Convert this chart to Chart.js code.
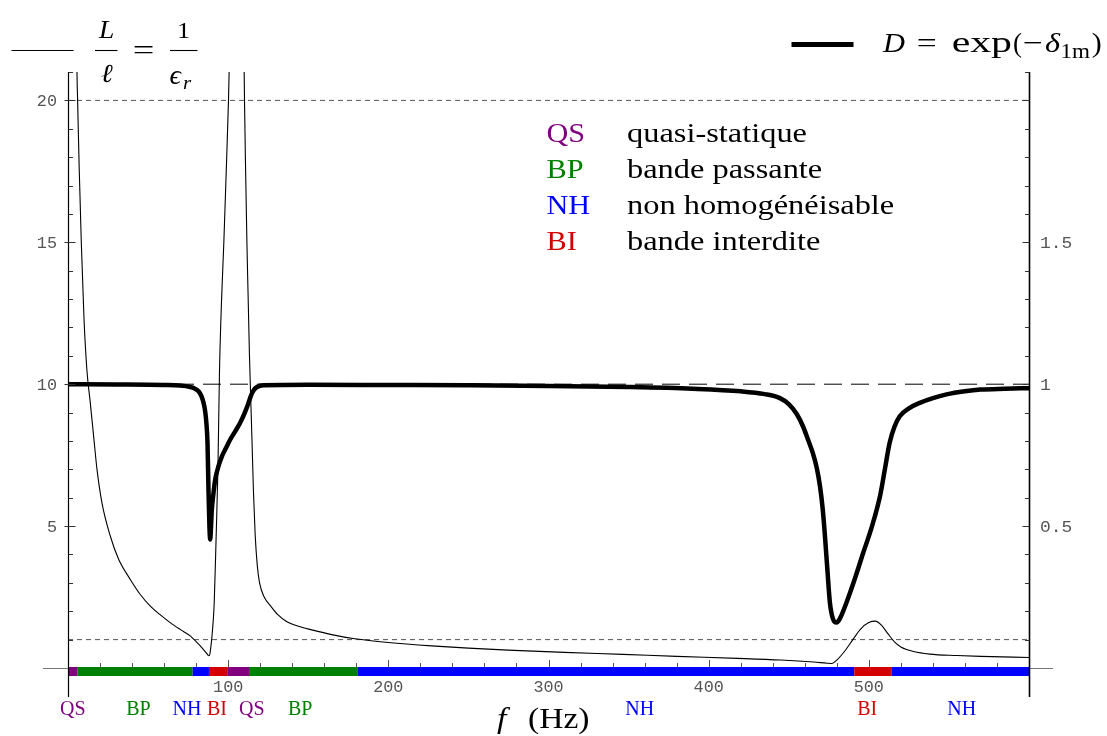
<!DOCTYPE html>
<html><head><meta charset="utf-8">
<script src="https://cdn.jsdelivr.net/npm/chart.js@4/dist/chart.umd.min.js"></script>
<style>html,body{margin:0;padding:0;background:#fff}#wrap{width:1107px;height:736px}</style>
</head><body><div id="wrap"><canvas id="c" width="1107" height="736"></canvas></div>
<script>
// ---- data ----
const thinFreq  = [5.0,5.6,6.0,7.0,8.3,10.0,11.8,13.9,16.0,18.1,21.2,26.4,31.6,38.9,45.0,51.4,57.5,63.8,70.0,76.3,80.0,82.6,85.0,86.8,87.9,88.6,89.3,89.9,91.3,92.5,93.6,94.6,95.9,97.3,98.8,100.2,100.6,101.2,105,109.6,110.0,110.2,110.9,111.7,112.5,113.3,114.8,115.8,116.9,118.2,119.6,122.5,126.6,131,136.2,145,155.3,167,179.2,200,227,250,274.7,310,346.3,380,418,445,465.7,474,477,480,485,490,495,500,504,508,512,516,520,528,538,555,570,600];
const thinRatio = [24,21,20,17.6,15,12.3,10.5,9.35,8.17,7.0,5.82,4.65,3.83,3.12,2.6,2.18,1.88,1.6,1.36,1.13,0.93,0.78,0.62,0.5,0.43,0.5,0.8,1.13,2.3,4.65,7.0,10.5,13,15,17.5,20,21,23,null,23,21,20,17.5,15,13,11.0,8.17,6.2,4.65,3.6,3.0,2.5,2.18,1.88,1.65,1.45,1.30,1.15,1.03,0.9,0.78,0.7,0.63,0.55,0.48,0.41,0.34,0.28,0.21,0.17,0.16,0.28,0.6,1.0,1.38,1.6,1.65,1.5,1.2,0.92,0.74,0.58,0.49,0.44,0.41,0.37];
const thickFreq = [0,30,60,70,76.3,79,81.5,83.3,84.6,85.5,86.3,87.1,87.7,88.3,88.8,89.3,89.8,90.8,91.9,94,96.1,98.7,101.3,104.4,107.5,110.2,112.7,114.4,115.8,118,122,150,200,250,300,350,390,420,435,444.5,450,455,459,462,465,467.5,469.5,471.2,472.6,474.2,475.7,477.5,479.9,482,486,491,496.5,502,507,510,513,516,519.3,525,531.8,540,548.5,560,569.7,585,600];
const thickD    = [1.0,0.999,0.997,0.995,0.99,0.985,0.975,0.958,0.935,0.91,0.87,0.793,0.63,0.5,0.453,0.5,0.559,0.615,0.664,0.712,0.746,0.776,0.805,0.834,0.864,0.897,0.934,0.962,0.978,0.99,0.996,0.998,0.997,0.996,0.994,0.99,0.984,0.975,0.965,0.951,0.93,0.895,0.85,0.805,0.758,0.705,0.641,0.56,0.465,0.34,0.23,0.175,0.16,0.175,0.23,0.31,0.406,0.5,0.606,0.7,0.794,0.85,0.887,0.915,0.934,0.951,0.964,0.975,0.981,0.984,0.986];

const xTickLabels     = [100,200,300,400,500];
const leftTickLabels  = [5,10,15,20];
const rightTickLabels = [0.5,1,1.5];
const dottedLevels    = [20,1];   // left-axis units
const dashedLevel     = 10;

const bandStart = [0,6,77.8,88,99.4,113,181,490.9,514.2];
const bandEnd   = [6,77.8,88,99.4,113,181,490.9,514.2,600];
const bandType  = ['QS','BP','NH','BI','QS','BP','NH','BI','NH'];
const bandLabelFreq = [3,44,74.3,93,114.8,145,357,499,558];
const bandLabelType = ['QS','BP','NH','BI','QS','BP','NH','BI','NH'];

const regimeCodes = ['QS','BP','NH','BI'];
const regimeNames = ['quasi-statique','bande passante','non homogénéisable','bande interdite'];
const regimeColors = {QS:'#800080', BP:'#008000', NH:'#0000ff', BI:'#d40000'};

// ---- helpers ----
const SERIF = '"Liberation Serif","DejaVu Serif",serif';
const MONO  = '"Liberation Mono","DejaVu Sans Mono",monospace';
function txt(ctx, s, x, y, font, color, align, sx){
  ctx.save(); ctx.font = font; ctx.fillStyle = color; ctx.textBaseline = 'alphabetic'; ctx.textAlign = 'left';
  const w = ctx.measureText(s).width * sx;
  const x0 = align === 'center' ? x - w/2 : (align === 'right' ? x - w : x);
  ctx.translate(x0, y); ctx.scale(sx, 1); ctx.fillText(s, 0, 0); ctx.restore();
}
function fit(ctx, s, x0, x1, y, font, color){
  ctx.save(); ctx.font = font; ctx.fillStyle = color; ctx.textBaseline = 'alphabetic'; ctx.textAlign = 'left';
  const w = ctx.measureText(s).width;
  ctx.translate(x0, y); ctx.scale((x1 - x0) / w, 1); ctx.fillText(s, 0, 0); ctx.restore();
}
function line(ctx, x0, y0, x1, y1, w, c){
  ctx.save(); ctx.strokeStyle = c; ctx.lineWidth = w; ctx.beginPath(); ctx.moveTo(x0, y0); ctx.lineTo(x1, y1); ctx.stroke(); ctx.restore();
}

const decor = {
  id: 'decor',
  afterDraw(chart){
    const ctx = chart.ctx, xs = chart.scales.x, ys = chart.scales.y, ys2 = chart.scales.y2;
    const xL = Math.round(xs.getPixelForValue(0)) + 0.5;
    const xR = Math.round(xs.getPixelForValue(600)) + 0.5;
    const y0 = Math.round(ys.getPixelForValue(0)) + 0.5;
    const top = chart.chartArea.top;
    // x axis line
    line(ctx, 43, y0, 1053, y0, 1, '#777');
    // regime band
    for (let i = 0; i < bandStart.length; i++){
      const a = xs.getPixelForValue(bandStart[i]), b = xs.getPixelForValue(bandEnd[i]);
      ctx.fillStyle = regimeColors[bandType[i]];
      ctx.fillRect(a, y0 - 1.5, b - a, 9);
    }
    // x ticks
    for (let f = 20; f < 600; f += 20){
      const px = Math.round(xs.getPixelForValue(f)) + 0.5;
      const len = (f % 100 === 0) ? 7 : 4;
      line(ctx, px, y0 - 1.5, px, y0 - 1.5 - len, 1, '#555');
    }
    // vertical axes
    line(ctx, xL, top, xL, 697, 1.2, '#000');
    line(ctx, xR, top, xR, 697, 1.6, '#000');
    // left ticks
    for (let v = 1; v <= 21; v++){
      const py = Math.round(ys.getPixelForValue(v)) + 0.5;
      if (v % 5 === 0) line(ctx, xL - 4, py, xL + 7, py, 1, '#333');
      else line(ctx, xL, py, xL + 4.5, py, 1, '#333');
    }
    // right ticks
    for (let k = 1; k <= 21; k++){
      const v = k / 10;
      const py = Math.round(ys2.getPixelForValue(v)) + 0.5;
      if (k % 5 === 0) line(ctx, xR - 7, py, xR, py, 1, '#333');
      else line(ctx, xR - 4.5, py, xR, py, 1, '#333');
    }
    // tick labels
    const tf = '16px ' + MONO;
    xTickLabels.forEach(v => txt(ctx, String(v), xs.getPixelForValue(v), 692, tf, '#555', 'center', 1.05));
    leftTickLabels.forEach(v => txt(ctx, String(v), 57, ys.getPixelForValue(v) + 5.5, tf, '#555', 'right', 1.05));
    rightTickLabels.forEach(v => txt(ctx, String(v), 1040, ys2.getPixelForValue(v) + 5.5, tf, '#555', 'left', 1.12));
    // band labels
    bandLabelFreq.forEach((f, i) => txt(ctx, bandLabelType[i], xs.getPixelForValue(f), 715, '20px ' + SERIF, regimeColors[bandLabelType[i]], 'center', 1.0));
    // axis title
    txt(ctx, 'f', 497, 728, 'italic 30px ' + SERIF, '#000', 'left', 1.12);
    txt(ctx, '(Hz)', 528, 728, '30px ' + SERIF, '#000', 'left', 1.12);
    // in-plot legend
    const rowY = [142, 178, 214, 250];
    regimeCodes.forEach((c, i) => {
      txt(ctx, c, 546.5, rowY[i], '27px ' + SERIF, regimeColors[c], 'left', 1.12);
      txt(ctx, regimeNames[i], 627, rowY[i], '27px ' + SERIF, '#000', 'left', 1.2);
    });
    // top-left legend: L/ℓ = 1/ε_r
    line(ctx, 11.5, 50.5, 73.5, 50.5, 1.2, '#000');
    txt(ctx, 'L', 106.7, 38, 'italic 25px ' + SERIF, '#000', 'center', 1.1);
    line(ctx, 95, 50.5, 117.5, 50.5, 1.1, '#000');
    txt(ctx, 'ℓ', 106.7, 82, 'italic 26px ' + SERIF, '#000', 'center', 1.1);
    fit(ctx, '=', 132.7, 154.3, 58.5, '28px ' + SERIF, '#000');
    txt(ctx, '1', 183.5, 38, '24px ' + SERIF, '#000', 'center', 1.1);
    line(ctx, 170, 50.5, 197.5, 50.5, 1.1, '#000');
    txt(ctx, 'ϵ', 169.5, 83.5, 'italic 27px ' + SERIF, '#000', 'left', 1.05);
    txt(ctx, 'r', 183, 88.5, 'italic 19px ' + SERIF, '#000', 'left', 1.1);
    // top-right legend: D = exp(−δ1m)
    ctx.save(); ctx.lineCap = 'butt'; line(ctx, 791.5, 44.5, 853.5, 44.5, 5, '#000'); ctx.restore();
    fit(ctx, 'D', 883, 905, 52, 'italic 28px ' + SERIF, '#000');
    fit(ctx, '=', 916.7, 936.7, 52, '28px ' + SERIF, '#000');
    fit(ctx, 'exp', 951.7, 1012, 52, '30px ' + SERIF, '#000');
    fit(ctx, '(', 1013, 1022, 52, '28px ' + SERIF, '#000');
    fit(ctx, '−', 1023, 1043, 52, '28px ' + SERIF, '#000');
    fit(ctx, 'δ', 1045, 1060, 52, 'italic 28px ' + SERIF, '#000');
    fit(ctx, '1m', 1060.5, 1090, 58, '20px ' + SERIF, '#000');
    fit(ctx, ')', 1091.7, 1101.7, 52, '28px ' + SERIF, '#000');
  }
};

const pts = (xsArr, ysArr) => xsArr.map((f, i) => ({x: f, y: ysArr[i]}));
const hline = (v) => [{x: 0, y: v}, {x: 600, y: v}];

new Chart(document.getElementById('c'), {
  type: 'line',
  data: {
    datasets: [
      {data: pts(thickFreq, thickD), yAxisID: 'y2', borderColor: '#000', borderWidth: 4.5, pointRadius: 0, cubicInterpolationMode: 'monotone', fill: false},
      {data: pts(thinFreq, thinRatio), yAxisID: 'y', borderColor: '#000', borderWidth: 1.1, pointRadius: 0, cubicInterpolationMode: 'monotone', spanGaps: false, fill: false},
      {data: hline(dashedLevel), yAxisID: 'y', borderColor: '#000', borderWidth: 1, borderDash: [18, 9], pointRadius: 0, fill: false},
      {data: hline(dottedLevels[0]), yAxisID: 'y', borderColor: '#555', borderWidth: 1, borderDash: [5, 4], pointRadius: 0, fill: false},
      {data: hline(dottedLevels[1]), yAxisID: 'y', borderColor: '#555', borderWidth: 1, borderDash: [5, 4], pointRadius: 0, fill: false}
    ]
  },
  options: {
    responsive: false, animation: false, devicePixelRatio: 1,
    layout: {padding: {left: 68, right: 78, top: 72, bottom: 68}},
    plugins: {legend: {display: false}, tooltip: {enabled: false}},
    scales: {
      x: {type: 'linear', min: 0, max: 600, display: false},
      y: {type: 'linear', min: 0, max: 21, display: false},
      y2: {type: 'linear', min: 0, max: 2.1, display: false, position: 'right'}
    }
  },
  plugins: [decor]
});
</script>
</body></html>
